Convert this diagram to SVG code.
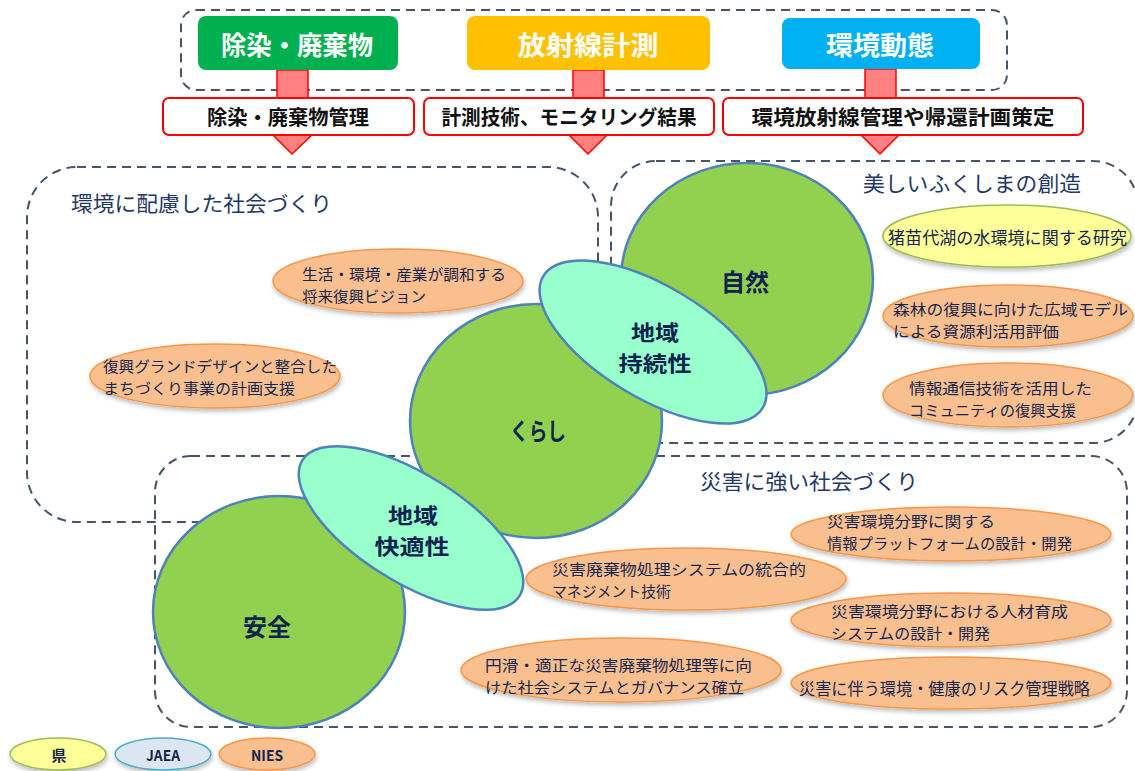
<svg xmlns="http://www.w3.org/2000/svg" width="1135" height="771" viewBox="0 0 1135 771">
<defs>
<filter id="sh" x="-10%" y="-20%" width="120%" height="150%">
<feDropShadow dx="1" dy="3" stdDeviation="2" flood-color="#000" flood-opacity="0.25"/>
</filter>
</defs>
<style>
.jp{font-family:"Noto Sans CJK JP","Noto Sans",sans-serif;}
.dash{fill:none;stroke:#44546a;stroke-width:2;stroke-dasharray:9 6;}
.ttl{font-size:21px;fill:#1f3864;}
.cat{font-size:26px;font-weight:bold;fill:#fff;text-anchor:middle;}
.rbox{fill:#fff;stroke:#ff0000;stroke-width:2;}
.rtxt{font-size:20px;font-weight:bold;fill:#111;text-anchor:middle;}
.shaft{fill:#ff8080;stroke:#ff0000;stroke-width:1.5;}
.circ{fill:#92d050;stroke:#4f81bd;stroke-width:2.5;}
.teal{fill:#99ffcc;stroke:#4f81bd;stroke-width:2.5;}
.big{font-size:24px;font-weight:bold;fill:#0c2350;text-anchor:middle;}
.big2{font-size:21px;font-weight:bold;fill:#0c2350;text-anchor:middle;}
.org{fill:#fabf8f;stroke:#f79646;stroke-width:1.5;filter:url(#sh);}
.yel{fill:#ffff99;stroke:#9bbb59;stroke-width:1.5;filter:url(#sh);}
.blu{fill:#dce6f2;stroke:#4bacc6;stroke-width:1.5;filter:url(#sh);}
.t{font-size:16.5px;fill:#14254d;}
.t2{font-size:15px;fill:#14254d;}
.lg{font-size:15px;font-weight:bold;fill:#14254d;text-anchor:middle;}
</style>

<!-- regions -->
<g id="regions">
<rect class="dash" x="181" y="10" width="826" height="80" rx="15"/>
<rect class="dash" x="27" y="167" width="571" height="355" rx="50"/>
<rect class="dash" x="611" y="161" width="527" height="282" rx="45"/>
<rect class="dash" x="155" y="456" width="972" height="271" rx="36"/>
<text class="jp ttl" x="71" y="211" textLength="261" lengthAdjust="spacingAndGlyphs">環境に配慮した社会づくり</text>
<text class="jp ttl" x="863" y="191" textLength="218" lengthAdjust="spacingAndGlyphs">美しいふくしまの創造</text>
<text class="jp ttl" x="700" y="489" textLength="218" lengthAdjust="spacingAndGlyphs">災害に強い社会づくり</text>
</g>

<!-- connectors -->
<g id="connectors">
<rect class="shaft" x="277" y="70" width="31" height="28"/>
<rect class="shaft" x="573" y="70" width="31" height="28"/>
<rect class="shaft" x="865" y="69" width="31" height="29"/>
<polygon class="shaft" points="273,135 312,135 292,154"/>
<polygon class="shaft" points="569,135 607,135 588,154"/>
<polygon class="shaft" points="861,135 899,135 880,154"/>
</g>

<g id="cat-josen">
<rect x="198" y="16" width="200" height="54" rx="8" fill="#00b050"/>
<text class="jp cat" x="297" y="55" textLength="152" lengthAdjust="spacingAndGlyphs">除染・廃棄物</text>
</g>
<g id="cat-housha">
<rect x="467" y="16" width="243" height="54" rx="8" fill="#ffc000"/>
<text class="jp cat" x="588" y="55" textLength="141" lengthAdjust="spacingAndGlyphs">放射線計測</text>
</g>
<g id="cat-kankyo">
<rect x="782" y="18" width="198" height="51" rx="8" fill="#00b0f0"/>
<text class="jp cat" x="880" y="55" textLength="108" lengthAdjust="spacingAndGlyphs">環境動態</text>
</g>

<g id="out-josen">
<rect class="rbox" x="163" y="98" width="251" height="37" rx="6"/>
<text class="jp rtxt" x="288" y="125" textLength="162" lengthAdjust="spacingAndGlyphs">除染・廃棄物管理</text>
</g>
<g id="out-keisoku">
<rect class="rbox" x="424" y="98" width="290" height="37" rx="6"/>
<text class="jp rtxt" x="569" y="125" textLength="255" lengthAdjust="spacingAndGlyphs">計測技術、モニタリング結果</text>
</g>
<g id="out-kankyo">
<rect class="rbox" x="723" y="98" width="360" height="37" rx="6"/>
<text class="jp rtxt" x="903" y="125" textLength="303" lengthAdjust="spacingAndGlyphs">環境放射線管理や帰還計画策定</text>
</g>

<!-- circles -->
<g id="shizen">
<ellipse class="circ" cx="747" cy="279" rx="126" ry="116"/>
<text class="jp big" x="745" y="291">自然</text>
</g>
<g id="kurashi">
<ellipse class="circ" cx="536" cy="421" rx="126" ry="117"/>
<text class="jp big" x="538" y="440" textLength="56" lengthAdjust="spacingAndGlyphs">くらし</text>
</g>
<g id="anzen">
<ellipse class="circ" cx="279" cy="612" rx="126" ry="116"/>
<text class="jp big" x="267" y="636">安全</text>
</g>
<g id="jizoku">
<ellipse class="teal" cx="653" cy="342" rx="128" ry="56" transform="rotate(31 653 342)"/>
<text class="jp big2" x="655" y="340" textLength="48" lengthAdjust="spacingAndGlyphs">地域</text>
<text class="jp big2" x="655" y="371" textLength="73" lengthAdjust="spacingAndGlyphs">持続性</text>
</g>
<g id="kaiteki">
<ellipse class="teal" cx="411" cy="528" rx="128" ry="54" transform="rotate(32 411 528)"/>
<text class="jp big2" x="413" y="523" textLength="50" lengthAdjust="spacingAndGlyphs">地域</text>
<text class="jp big2" x="412" y="554" textLength="75" lengthAdjust="spacingAndGlyphs">快適性</text>
</g>

<!-- project ellipses -->
<g id="p-vision">
<ellipse class="org" cx="398" cy="281" rx="125" ry="32"/>
<text class="jp t2" x="302" y="280" textLength="204" lengthAdjust="spacingAndGlyphs">生活・環境・産業が調和する</text>
<text class="jp t2" x="302" y="302" textLength="124" lengthAdjust="spacingAndGlyphs">将来復興ビジョン</text>
</g>
<g id="p-design">
<ellipse class="org" cx="215" cy="376" rx="125" ry="32"/>
<text class="jp t2" x="103" y="372" textLength="234" lengthAdjust="spacingAndGlyphs">復興グランドデザインと整合した</text>
<text class="jp t2" x="103" y="394" textLength="192" lengthAdjust="spacingAndGlyphs">まちづくり事業の計画支援</text>
</g>
<g id="p-inawashiro">
<ellipse class="yel" cx="1007" cy="236" rx="124" ry="31"/>
<text class="jp t" x="888" y="244" textLength="239" lengthAdjust="spacingAndGlyphs">猪苗代湖の水環境に関する研究</text>
</g>
<g id="p-forest">
<ellipse class="org" cx="1008" cy="316" rx="125" ry="31"/>
<text class="jp t2" x="893" y="315" textLength="235" lengthAdjust="spacingAndGlyphs">森林の復興に向けた広域モデル</text>
<text class="jp t2" x="893" y="337" textLength="166" lengthAdjust="spacingAndGlyphs">による資源利活用評価</text>
</g>
<g id="p-ict">
<ellipse class="org" cx="1008" cy="395" rx="125" ry="32"/>
<text class="jp t2" x="909" y="394" textLength="183" lengthAdjust="spacingAndGlyphs">情報通信技術を活用した</text>
<text class="jp t2" x="909" y="416" textLength="167" lengthAdjust="spacingAndGlyphs">コミュニティの復興支援</text>
</g>
<g id="p-platform">
<ellipse class="org" cx="951" cy="534" rx="160" ry="27"/>
<text class="jp t2" x="827" y="527" textLength="168" lengthAdjust="spacingAndGlyphs">災害環境分野に関する</text>
<text class="jp t2" x="827" y="549" textLength="245" lengthAdjust="spacingAndGlyphs">情報プラットフォームの設計・開発</text>
</g>
<g id="p-waste">
<ellipse class="org" cx="686" cy="579" rx="160" ry="31"/>
<text class="jp t2" x="552" y="575" textLength="254" lengthAdjust="spacingAndGlyphs">災害廃棄物処理システムの統合的</text>
<text class="jp t2" x="552" y="597" textLength="119" lengthAdjust="spacingAndGlyphs">マネジメント技術</text>
</g>
<g id="p-human">
<ellipse class="org" cx="951" cy="620" rx="160" ry="27"/>
<text class="jp t2" x="831" y="617" textLength="237" lengthAdjust="spacingAndGlyphs">災害環境分野における人材育成</text>
<text class="jp t2" x="831" y="639" textLength="159" lengthAdjust="spacingAndGlyphs">システムの設計・開発</text>
</g>
<g id="p-governance">
<ellipse class="org" cx="621" cy="670" rx="160" ry="32"/>
<text class="jp t2" x="485" y="671" textLength="267" lengthAdjust="spacingAndGlyphs">円滑・適正な災害廃棄物処理等に向</text>
<text class="jp t2" x="485" y="693" textLength="259" lengthAdjust="spacingAndGlyphs">けた社会システムとガバナンス確立</text>
</g>
<g id="p-risk">
<ellipse class="org" cx="951" cy="683" rx="160" ry="26"/>
<text class="jp t" x="799" y="695" textLength="291" lengthAdjust="spacingAndGlyphs">災害に伴う環境・健康のリスク管理戦略</text>
</g>

<!-- legend -->
<g id="legend-ken">
<ellipse class="yel" cx="58" cy="754" rx="48" ry="16"/>
<text class="jp lg" x="59" y="761">県</text>
</g>
<g id="legend-jaea">
<ellipse class="blu" cx="163" cy="754" rx="48" ry="16"/>
<text class="jp lg" x="163" y="761" textLength="34" lengthAdjust="spacingAndGlyphs">JAEA</text>
</g>
<g id="legend-nies">
<ellipse class="org" cx="267" cy="754" rx="48" ry="16"/>
<text class="jp lg" x="267" y="761" textLength="32" lengthAdjust="spacingAndGlyphs">NIES</text>
</g>
</svg>
